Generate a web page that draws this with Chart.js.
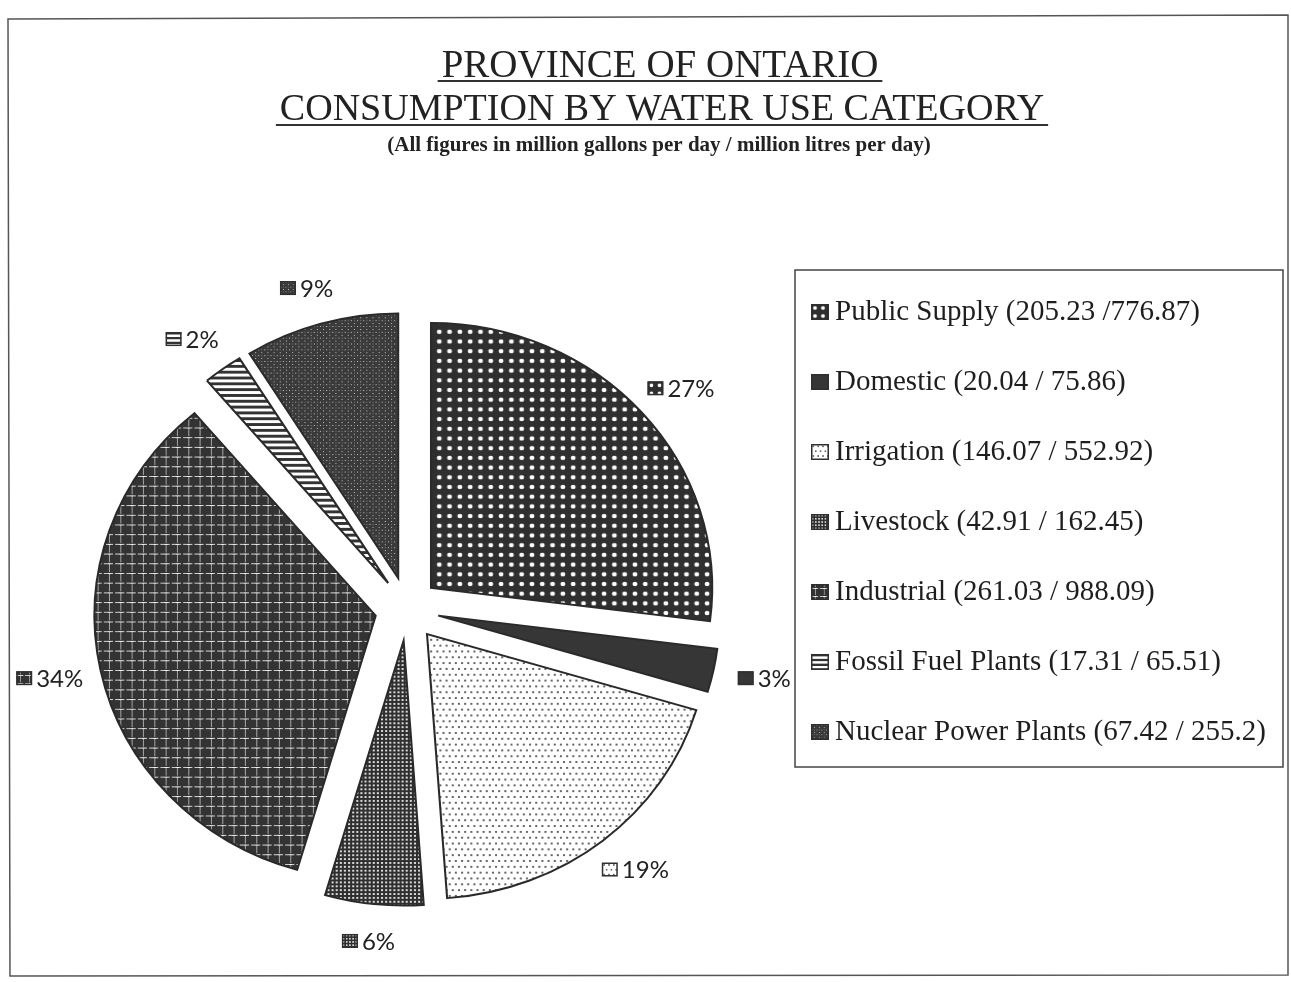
<!DOCTYPE html>
<html>
<head>
<meta charset="utf-8">
<script src="https://cdn.jsdelivr.net/npm/chart.js@4.4.1/dist/chart.umd.min.js"></script>
<style>
html,body{margin:0;padding:0;background:#fff;}
canvas{display:block;}
</style>
</head>
<body>
<canvas id="c" width="1291" height="982"></canvas>
<script>
// ---------------- data ----------------
const categories = ['Public Supply', 'Domestic', 'Irrigation', 'Livestock', 'Industrial', 'Fossil Fuel Plants', 'Nuclear Power Plants'];
const gallonsPerDay = [205.23, 20.04, 146.07, 42.91, 261.03, 17.31, 67.42];
const litresPerDay = [776.87, 75.86, 552.92, 162.45, 988.09, 65.51, 255.2];
const legendLabels = [
  'Public Supply (205.23 /776.87)',
  'Domestic (20.04 / 75.86)',
  'Irrigation (146.07 / 552.92)',
  'Livestock (42.91 / 162.45)',
  'Industrial (261.03 / 988.09)',
  'Fossil Fuel Plants (17.31 / 65.51)',
  'Nuclear Power Plants (67.42 / 255.2)'
];
const titleLines = ['PROVINCE OF ONTARIO', 'CONSUMPTION BY WATER USE CATEGORY'];
const subtitleText = '(All figures in million gallons per day / million litres per day)';

// ---------------- styles ----------------
const DARK = '#2f2f2f';
const EXPLODE = 32;
const SX = 1.03, SY = 0.97;
const LABEL_GAP_X = 52, LABEL_GAP_Y = 37;
const SERIF = '"Liberation Serif", "Times New Roman", serif';

const canvas = document.getElementById('c');
const mainCtx = canvas.getContext('2d');

function makePattern(w, h, draw) {
  const c = document.createElement('canvas');
  c.width = w; c.height = h;
  const g = c.getContext('2d');
  draw(g, w, h);
  return mainCtx.createPattern(c, 'repeat');
}

const patterns = [
  // Public Supply: dark with white dots
  makePattern(10, 10, (g, w, h) => {
    g.fillStyle = DARK; g.fillRect(0, 0, w, h);
    g.fillStyle = '#ffffff';
    g.beginPath(); g.ellipse(5, 5, 2.4, 2.2, 0, 0, Math.PI * 2); g.fill();
  }),
  // Domestic: solid dark
  '#363636',
  // Irrigation: white with small dots
  makePattern(12, 12, (g, w, h) => {
    g.fillStyle = '#ffffff'; g.fillRect(0, 0, w, h);
    g.fillStyle = '#333';
    [[3, 3], [9, 3], [0, 9], [6, 9], [12, 9]].forEach(p => {
      g.beginPath(); g.arc(p[0], p[1], 1.0, 0, Math.PI * 2); g.fill();
    });
  }),
  // Livestock: fine dark grid with light holes
  makePattern(4, 4, (g, w, h) => {
    g.fillStyle = DARK; g.fillRect(0, 0, w, h);
    g.fillStyle = '#d8d8d8'; g.fillRect(1, 1, 2, 2);
  }),
  // Industrial: dark with white cross grid
  makePattern(11, 10, (g, w, h) => {
    g.fillStyle = '#333333'; g.fillRect(0, 0, w, h);
    g.fillStyle = 'rgba(255,255,255,0.8)';
    g.fillRect(0, 5, 9, 1);
    g.fillStyle = 'rgba(255,255,255,0.55)';
    g.fillRect(5, 0, 1, 4);
    g.fillRect(5, 6, 1, 4);
    g.fillStyle = '#ffffff';
    g.fillRect(4, 5, 3, 1);
  }),
  // Fossil: horizontal stripes
  makePattern(6, 6, (g, w, h) => {
    g.fillStyle = '#ffffff'; g.fillRect(0, 0, w, h);
    g.fillStyle = '#333333'; g.fillRect(0, 0, w, 3);
  }),
  // Nuclear: dark speckled
  makePattern(6, 6, (g, w, h) => {
    g.fillStyle = '#3a3a3a'; g.fillRect(0, 0, w, h);
    g.fillStyle = 'rgba(255,255,255,0.7)';
    g.fillRect(1, 1, 1, 1);
    g.fillRect(4, 4, 1, 1);
    g.fillStyle = 'rgba(255,255,255,0.35)';
    g.fillRect(4, 1, 1, 1);
  })
];

function drawSwatch(ctx, x, y, w, h, fill) {
  ctx.save();
  ctx.translate(x, y);
  ctx.beginPath(); ctx.rect(0, 0, w, h); ctx.clip();
  ctx.save();
  ctx.scale(0.8, 0.8);
  ctx.fillStyle = fill;
  ctx.fillRect(0, 0, w / 0.8, h / 0.8);
  ctx.restore();
  ctx.restore();
  ctx.save();
  ctx.strokeStyle = DARK; ctx.lineWidth = 1.5;
  ctx.strokeRect(x + 0.75, y + 0.75, w - 1.5, h - 1.5);
  ctx.restore();
}

// explode slices and draw them through the library's arc elements
const explodePlugin = {
  id: 'explode',
  beforeDatasetDraw(chart, args) {
    const ctx = chart.ctx;
    args.meta.data.forEach(arc => {
      const mid = (arc.startAngle + arc.endAngle) / 2;
      ctx.save();
      ctx.translate(arc.x + Math.cos(mid) * EXPLODE, arc.y + Math.sin(mid) * EXPLODE);
      ctx.scale(SX, SY);
      ctx.translate(-arc.x, -arc.y);
      arc.draw(ctx);
      ctx.restore();
    });
    return false;
  }
};

const LABEL_FONT = '24px Lato, "Open Sans", sans-serif';

const decorPlugin = {
  id: 'decor',
  beforeDraw(chart) {
    const ctx = chart.ctx;
    ctx.save();
    ctx.fillStyle = '#ffffff';
    ctx.fillRect(0, 0, chart.width, chart.height);
    // page frame
    ctx.strokeStyle = '#555'; ctx.lineWidth = 1.5;
    ctx.beginPath();
    ctx.moveTo(8, 19); ctx.lineTo(1288, 15); ctx.lineTo(1288, 975); ctx.lineTo(10, 976); ctx.closePath();
    ctx.stroke();
    ctx.restore();
  },
  afterDatasetsDraw(chart) {
    const ctx = chart.ctx;
    const meta = chart.getDatasetMeta(0);
    const data = chart.data.datasets[0].data;
    const total = data.reduce((a, b) => a + b, 0);
    const bgs = chart.data.datasets[0].backgroundColor;
    ctx.save();
    ctx.textBaseline = 'middle';
    ctx.textAlign = 'left';
    meta.data.forEach((arc, i) => {
      const mid = (arc.startAngle + arc.endAngle) / 2;
      const c = Math.cos(mid), s = Math.sin(mid);
      const cx = arc.x + c * EXPLODE + c * (arc.outerRadius * SX + LABEL_GAP_X);
      const cy = arc.y + s * EXPLODE + s * (arc.outerRadius * SY + LABEL_GAP_Y);
      const txt = Math.round(data[i] / total * 100) + '%';
      ctx.font = LABEL_FONT;
      const tw = ctx.measureText(txt).width;
      const sw = 16, sh = 14, gap = 4;
      const x0 = cx - (sw + gap + tw) / 2;
      drawSwatch(ctx, x0, cy - sh / 2, sw, sh, bgs[i]);
      ctx.fillStyle = '#222';
      ctx.font = LABEL_FONT;
      ctx.fillText(txt, x0 + sw + gap, cy + 1);
    });
    ctx.restore();
  },
  afterDraw(chart) {
    const ctx = chart.ctx;
    const bgs = chart.data.datasets[0].backgroundColor;
    ctx.save();
    // title
    ctx.fillStyle = '#222';
    ctx.strokeStyle = '#333';
    ctx.textAlign = 'center';
    ctx.textBaseline = 'alphabetic';
    const tl = [{t: titleLines[0], x: 660, y: 77, size: 39, uy: 81},
                {t: titleLines[1], x: 662, y: 120, size: 38, uy: 125}];
    tl.forEach(l => {
      ctx.font = l.size + 'px ' + SERIF;
      ctx.fillText(l.t, l.x, l.y);
      const w = ctx.measureText(l.t).width;
      ctx.lineWidth = 2;
      ctx.beginPath();
      ctx.moveTo(l.x - w / 2 - 4, l.uy); ctx.lineTo(l.x + w / 2 + 4, l.uy);
      ctx.stroke();
    });
    ctx.font = 'bold 21px ' + SERIF;
    ctx.fillText(subtitleText, 659, 151);

    // legend
    ctx.lineWidth = 1.5;
    ctx.strokeStyle = '#444';
    ctx.strokeRect(795, 270, 488, 497);
    ctx.textAlign = 'left';
    legendLabels.forEach((t, i) => {
      const base = 320 + 70 * i;
      drawSwatch(ctx, 811, base - 16, 18, 16, bgs[i]);
      ctx.fillStyle = '#1e1e1e';
      ctx.font = '29px ' + SERIF;
      ctx.fillText(t, 835, base);
    });
    ctx.restore();
  }
};

new Chart(canvas, {
  type: 'pie',
  data: {
    labels: categories,
    datasets: [{
      data: gallonsPerDay,
      backgroundColor: patterns,
      borderColor: '#2a2a2a',
      borderWidth: 2,
      borderJoinStyle: 'miter',
      radius: 273,
      offset: 0,
      hoverOffset: 0
    }]
  },
  options: {
    responsive: false,
    animation: false,
    events: [],
    layout: { padding: { left: 0, right: 477, top: 280, bottom: 44 } },
    plugins: {
      legend: { display: false },
      title: { display: false },
      tooltip: { enabled: false }
    }
  },
  plugins: [explodePlugin, decorPlugin]
});
</script>
</body>
</html>
